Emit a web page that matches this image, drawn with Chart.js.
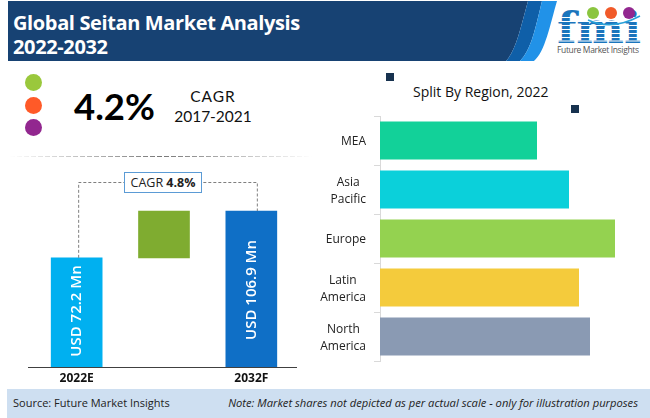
<!DOCTYPE html>
<html>
<head>
<meta charset="utf-8">
<script src="https://cdn.jsdelivr.net/npm/chart.js@4"></script>
<style>
  html, body { margin: 0; padding: 0; background: #fff; }
  #page { position: relative; width: 650px; height: 418px; overflow: hidden; font-family: "Open Sans", sans-serif; }
  #page > * { position: absolute; }
  #head { left: 0; top: 0; }
  #title { left: 13px; top: 11px; color: #fff; font-size: 20px; font-weight: 700; line-height: 24px; letter-spacing: -0.37px; white-space: nowrap; }
  .dot { left: 24.5px; width: 17px; height: 17px; border-radius: 50%; }
  #rate { left: 74px; top: 84px; font: 700 36.5px Lato, sans-serif; color: #000; }
  #rateNote { left: 168px; top: 86px; width: 90px; text-align: center; font: 400 15.5px/20px Lato, sans-serif; color: #111; }
  #rateNote span { letter-spacing: 1px; }
  #divider { left: 10px; top: 156px; width: 302px; height: 1px;
    background: repeating-linear-gradient(90deg, #777 0 5px, transparent 5px 7px);
    -webkit-mask-image: linear-gradient(90deg, transparent, #000 50%, transparent); }
  .mark { background: #17324f; width: 8px; height: 8px; }
  #split { left: 413px; top: 82px; font-size: 14px; color: #111; white-space: nowrap; }
  #foot { left: 7px; top: 389px; width: 643px; height: 29px; background: #cedff1; }
  #source { left: 13px; top: 395px; font-size: 11px; color: #222; }
  #note { right: 12px; top: 395px; font-size: 11.2px; font-style: italic; color: #222; white-space: nowrap; }
  #cagrBox { left: 124px; top: 172px; width: 76px; height: 19px; border: 1px solid #5b9bd5; background: #fff; font-size: 12.5px; line-height: 19px; text-align: center; color: #222; white-space: nowrap; }
  #leftChart { left: 0; top: 160px; }
  #rightChart { left: 320px; top: 105px; }
</style>
</head>
<body>
<div id="page">
  <svg id="head" width="650" height="65">
    <path d="M8 1H528C520 30 516 50 506 61H8Z" fill="#174273"/>
    <path d="M528 1H542C535 30 531 50 520 61H506C516 50 520 30 528 1Z" fill="#0f5fa8"/>
    <path d="M542 1H557C550 25 545 52 534 61H520C531 50 535 30 542 1Z" fill="#2192e8"/>
    <text x="557" y="43" font-family="DejaVu Serif" font-weight="700" font-size="42" fill="#1b75bc" textLength="84" lengthAdjust="spacingAndGlyphs">fmi</text>
    <g stroke="#fff" stroke-width="1">
      <path d="M555 17.5H645M555 21.5H645M555 25.5H645M555 29.5H645M555 33.5H645M555 37.5H645M555 41H645"/>
    </g>
    <path d="M588 20Q612 31 640 16" fill="none" stroke="#2aa0d8" stroke-width="1.5"/>
    <circle cx="593" cy="13" r="6" fill="#8bc53f"/>
    <circle cx="611" cy="13" r="6" fill="#f15a29"/>
    <circle cx="629" cy="13" r="6" fill="#92278f"/>
    <text x="557" y="53" font-family="Open Sans" font-size="8.5" fill="#555" textLength="82">Future Market Insights</text>
  </svg>
  <div id="title">Global Seitan Market Analysis<br>2022-2032</div>
  <div class="dot" style="top:74px;background:#9ac83c"></div>
  <div class="dot" style="top:96.5px;background:#ff5a28"></div>
  <div class="dot" style="top:118.5px;background:#92278f"></div>
  <div id="rate">4.2%</div>
  <div id="rateNote"><span>CAGR</span><br>2017-2021</div>
  <div id="divider"></div>
  <div class="mark" style="left:386px;top:73px"></div>
  <div class="mark" style="left:571px;top:105px"></div>
  <div id="split">Split By Region, 2022</div>
  <canvas id="leftChart" width="320" height="228"></canvas>
  <canvas id="rightChart" width="330" height="265"></canvas>
  <div id="cagrBox">CAGR <b>4.8%</b></div>
  <div id="foot"></div>
  <div id="source">Source: Future Market Insights</div>
  <div id="note">Note: Market shares not depicted as per actual scale - only for illustration purposes</div>
</div>
<script>
// left chart: the picture is not to scale, so bar heights are read off it
const yearLabels = ['2022E', '', '2032F'];
const baseBars = [74.8, null, 106.9];
const growthBar = [null, [74.8, 106.9], null];
const barColors = ['#00b0f0', '#7fac30', '#0f6fc6'];
const barTexts = ['USD 72.2 Mn', '', 'USD 106.9 Mn'];

// right chart
const regions = ['MEA', ['Asia\u00a0\u00a0', 'Pacific'], 'Europe', ['Latin\u00a0\u00a0\u00a0', 'America'], ['North\u00a0\u00a0', 'America']];
const regionValues = [157, 189, 235, 199, 210];
const regionColors = ['#12d199', '#0bd0da', '#94d250', '#f4cb3c', '#8a9ab3'];

const leftExtras = {
  id: 'leftExtras',
  afterDatasetsDraw(chart) {
    const { ctx, scales: { x, y }, chartArea } = chart;
    // baseline runs a little past the plot on both sides
    ctx.save();
    ctx.strokeStyle = '#404040';
    ctx.lineWidth = 1;
    ctx.beginPath();
    ctx.moveTo(chartArea.left - 5, y.getPixelForValue(0) + 0.5);
    ctx.lineTo(chartArea.right + 2, y.getPixelForValue(0) + 0.5);
    ctx.stroke();

    // dashed bracket between the two years
    const x0 = x.getPixelForValue(0) + 2;
    const x2 = x.getPixelForValue(2) + 6;
    const top = 22.5;
    ctx.strokeStyle = '#7f7f7f';
    ctx.setLineDash([3, 2]);
    ctx.beginPath();
    ctx.moveTo(x0, y.getPixelForValue(baseBars[0]));
    ctx.lineTo(x0, top);
    ctx.lineTo(x2, top);
    ctx.lineTo(x2, y.getPixelForValue(baseBars[2]));
    ctx.stroke();
    ctx.setLineDash([]);

    // value text inside the bars
    ctx.fillStyle = '#fff';
    ctx.font = '600 15px "Open Sans"';
    ctx.textAlign = 'center';
    ctx.textBaseline = 'middle';
    barTexts.forEach((t, i) => {
      if (!t) return;
      const mid = i === 0 ? 311 - 160 : 290 - 160;
      ctx.save();
      ctx.translate(x.getPixelForValue(i), mid);
      ctx.rotate(-Math.PI / 2);
      ctx.fillText(t, 0, 0);
      ctx.restore();
    });
    ctx.restore();
  }
};

new Chart(document.getElementById('leftChart'), {
  type: 'bar',
  plugins: [leftExtras],
  data: {
    labels: yearLabels,
    datasets: [
      { data: baseBars, backgroundColor: barColors, barThickness: 51, stack: 'a' },
      { data: growthBar, backgroundColor: barColors[1], barThickness: 51, stack: 'a' }
    ]
  },
  options: {
    responsive: false,
    animation: false,
    layout: { padding: { left: 33, right: 25, top: 10, bottom: 0 } },
    plugins: { legend: { display: false }, tooltip: { enabled: false } },
    scales: {
      x: {
        afterFit(scale) { scale.height = 21; },
        grid: { display: false },
        border: { display: false },
        ticks: { color: '#111', font: { family: 'Open Sans', size: 12, weight: '700' }, padding: -4, maxRotation: 0, autoSkip: false }
      },
      y: { display: false, min: 0, max: 135 }
    }
  }
});

new Chart(document.getElementById('rightChart'), {
  type: 'bar',
  data: {
    labels: regions,
    datasets: [{ data: regionValues, backgroundColor: regionColors, categoryPercentage: 1, barPercentage: 0.776 }]
  },
  options: {
    indexAxis: 'y',
    responsive: false,
    animation: false,
    layout: { padding: { top: 11, bottom: 9, left: 0, right: 20 } },
    plugins: { legend: { display: false }, tooltip: { enabled: false } },
    scales: {
      x: { display: false, min: 0, max: 250 },
      y: {
        afterFit(scale) { scale.width = 60; scale.paddingTop = 0; scale.paddingBottom = 0; },
        grid: { drawOnChartArea: false, color: '#d9d9d9', tickLength: 6 },
        border: { color: '#d9d9d9' },
        ticks: { color: '#222', font: { family: 'Open Sans', size: 12, lineHeight: 1.35 }, padding: 8, labelOffset: 1.5, autoSkip: false }
      }
    }
  }
});
</script>
</body>
</html>
